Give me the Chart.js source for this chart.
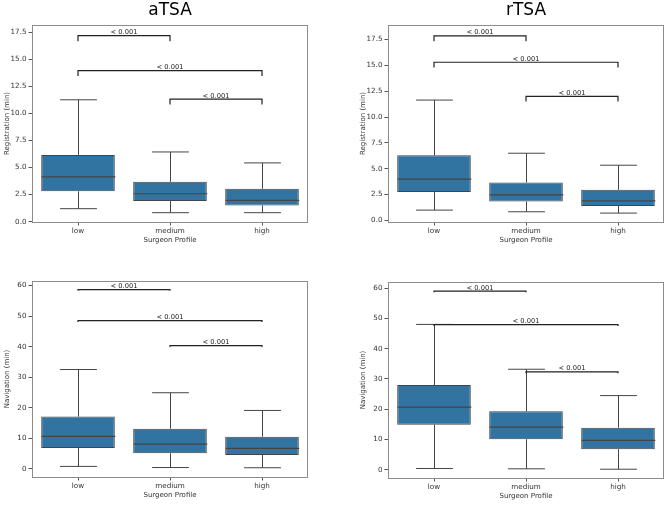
<!DOCTYPE html>
<html>
<head>
<meta charset="utf-8">
<script src="https://cdn.jsdelivr.net/npm/chart.js@4.4.0/dist/chart.umd.min.js"></script>
<style>
body { margin: 0; background: #fff; width: 667px; height: 506px; position: relative; overflow: hidden; }
canvas { position: absolute; }
</style>
</head>
<body>
<canvas id="c0" width="333" height="253" style="left:0;top:0"></canvas>
<canvas id="c1" width="333" height="253" style="left:333px;top:0"></canvas>
<canvas id="c2" width="333" height="253" style="left:0;top:253px"></canvas>
<canvas id="c3" width="333" height="253" style="left:333px;top:253px"></canvas>
<script>
"use strict"

const profiles = ["low", "medium", "high"]
const pairs = [[0, 1], [0, 2], [1, 2]]
const pLabels = ["< 0.001", "< 0.001", "< 0.001"]

// aTSA - registration
const aRegLo  = [1.2, 0.83, 0.83]
const aRegQ1  = [2.8, 1.9, 1.5]
const aRegMed = [4.14, 2.58, 1.96]
const aRegQ3  = [6.17, 3.68, 3.04]
const aRegHi  = [11.26, 6.44, 5.43]
const aRegBrackets = [17.18, 13.96, 11.33]

// rTSA - registration
const rRegLo  = [1.0, 0.84, 0.71]
const rRegQ1  = [2.74, 1.83, 1.39]
const rRegMed = [3.99, 2.48, 1.9]
const rRegQ3  = [6.3, 3.67, 2.96]
const rRegHi  = [11.64, 6.5, 5.34]
const rRegBrackets = [17.84, 15.3, 12.0]

// aTSA - navigation
const aNavLo  = [0.77, 0.4, 0.33]
const aNavQ1  = [6.8, 5.1, 4.5]
const aNavMed = [10.6, 8.1, 6.7]
const aNavQ3  = [17.1, 13.1, 10.5]
const aNavHi  = [32.5, 24.9, 19.1]
const aNavBrackets = [58.7, 48.5, 40.3]

// rTSA - navigation
const rNavLo  = [0.44, 0.33, 0.2]
const rNavQ1  = [14.9, 10.1, 6.8]
const rNavMed = [20.7, 14.1, 9.7]
const rNavQ3  = [28.0, 19.3, 13.9]
const rNavHi  = [48.0, 33.2, 24.5]
const rNavBrackets = [59.0, 47.9, 32.3]

const FONT = "'DejaVu Sans', sans-serif"
const BOX_COLOR = "rgb(50,116,161)"
const LINE_COLOR = "#444"

// draws whiskers, medians, significance brackets and the frame
function boxExtras(lo, med, hi, q1, q3, brackets, tickLen) {
    return {
        id: "boxExtras",
        afterDatasetsDraw(chart) {
            const ctx = chart.ctx
            const xs = chart.scales.x
            const ys = chart.scales.y
            const bars = chart.getDatasetMeta(0).data
            ctx.save()
            ctx.strokeStyle = LINE_COLOR
            ctx.lineWidth = 1
            for (let i = 0; i < profiles.length; i++) {
                let cx = Math.round(xs.getPixelForValue(i)) + 0.5
                let half = bars[i].width / 2
                let cap = half / 2
                ctx.beginPath()
                ctx.moveTo(cx, ys.getPixelForValue(q1[i]))
                ctx.lineTo(cx, ys.getPixelForValue(lo[i]))
                ctx.moveTo(cx - cap, ys.getPixelForValue(lo[i]))
                ctx.lineTo(cx + cap, ys.getPixelForValue(lo[i]))
                ctx.moveTo(cx, ys.getPixelForValue(q3[i]))
                ctx.lineTo(cx, ys.getPixelForValue(hi[i]))
                ctx.moveTo(cx - cap, ys.getPixelForValue(hi[i]))
                ctx.lineTo(cx + cap, ys.getPixelForValue(hi[i]))
                ctx.stroke()
                ctx.lineWidth = 1.2
                ctx.beginPath()
                ctx.moveTo(cx - half, ys.getPixelForValue(med[i]))
                ctx.lineTo(cx + half, ys.getPixelForValue(med[i]))
                ctx.stroke()
                ctx.lineWidth = 1
            }
            // brackets
            ctx.strokeStyle = "#222"
            ctx.lineWidth = 1.2
            ctx.fillStyle = "#222"
            ctx.font = "6.7px " + FONT
            ctx.textAlign = "center"
            ctx.textBaseline = "alphabetic"
            for (let k = 0; k < pairs.length; k++) {
                let x1 = xs.getPixelForValue(pairs[k][0])
                let x2 = xs.getPixelForValue(pairs[k][1])
                let yl = ys.getPixelForValue(brackets[k])
                let yt = ys.getPixelForValue(brackets[k] - tickLen)
                ctx.beginPath()
                ctx.moveTo(x1, yt)
                ctx.lineTo(x1, yl)
                ctx.lineTo(x2, yl)
                ctx.lineTo(x2, yt)
                ctx.stroke()
                ctx.fillText(pLabels[k], (x1 + x2) / 2, yl - 1.5)
            }
            ctx.restore()
        },
        afterDraw(chart) {
            const a = chart.chartArea
            const ctx = chart.ctx
            ctx.save()
            ctx.strokeStyle = "#8c8c8c"
            ctx.lineWidth = 1
            ctx.strokeRect(Math.round(a.left) + 0.5, Math.round(a.top) + 0.5,
                           Math.round(a.right - a.left) - 1, Math.round(a.bottom - a.top))
            ctx.restore()
        }
    }
}

function MakePanel(id, p) {
    let ctx = document.getElementById(id).getContext("2d")
    new Chart(ctx, {
        type: "bar",
        data: {
            labels: profiles,
            datasets: [{
                data: p.q1.map((v, i) => [v, p.q3[i]]),
                backgroundColor: BOX_COLOR,
                borderColor: LINE_COLOR,
                borderWidth: 1,
                borderSkipped: false,
                barPercentage: 0.8,
                categoryPercentage: 1.0
            }]
        },
        options: {
            responsive: false,
            animation: false,
            devicePixelRatio: 1,
            layout: { padding: p.pad },
            plugins: {
                legend: { display: false },
                tooltip: { enabled: false },
                title: {
                    display: !!p.title,
                    text: p.title,
                    fullSize: false,
                    color: "#000",
                    font: { family: FONT, size: 17, weight: "normal" },
                    padding: { top: 0, bottom: 4.6 }
                }
            },
            scales: {
                x: {
                    afterFit: s => { s.height = 22.5 },
                    grid: { display: true, drawOnChartArea: false, offset: false, tickLength: 3.5, color: "#555" },
                    border: { display: false },
                    ticks: { color: "#333", padding: 1, font: { family: FONT, size: 7.2 } },
                    title: { display: true, text: "Surgeon Profile", color: "#333", padding: 0,
                             font: { family: FONT, size: 7 } }
                },
                y: {
                    min: p.min,
                    max: p.max,
                    afterFit: s => { s.width = 32 },
                    grid: { drawOnChartArea: false, tickLength: 3.5, color: "#555" },
                    border: { display: false },
                    ticks: {
                        stepSize: p.step,
                        includeBounds: false,
                        color: "#333",
                        padding: 2,
                        font: { family: FONT, size: 7.2 },
                        callback: v => p.step < 5 ? v.toFixed(1) : v.toString()
                    },
                    title: { display: true, text: p.ylabel, color: "#333", padding: { top: 3, bottom: 0 },
                             font: { family: FONT, size: 7 } }
                }
            }
        },
        plugins: [boxExtras(p.lo, p.med, p.hi, p.q1, p.q3, p.brackets, p.tick)]
    })
}

MakePanel("c0", { title: "aTSA", ylabel: "Registration (min)", min: -0.03, max: 18.17, step: 2.5,
    lo: aRegLo, q1: aRegQ1, med: aRegMed, q3: aRegQ3, hi: aRegHi, brackets: aRegBrackets, tick: 0.5,
    pad: { left: 0, right: 25, top: 0, bottom: 8.5 } })
MakePanel("c1", { title: "rTSA", ylabel: "Registration (min)", min: -0.15, max: 18.9, step: 2.5,
    lo: rRegLo, q1: rRegQ1, med: rRegMed, q3: rRegQ3, hi: rRegHi, brackets: rRegBrackets, tick: 0.5,
    pad: { left: 23, right: 2, top: 0, bottom: 8.5 } })
MakePanel("c2", { title: "", ylabel: "Navigation (min)", min: -2.7, max: 61.5, step: 10,
    lo: aNavLo, q1: aNavQ1, med: aNavMed, q3: aNavQ3, hi: aNavHi, brackets: aNavBrackets, tick: 0.4,
    pad: { left: 0, right: 25, top: 28, bottom: 6.5 } })
MakePanel("c3", { title: "", ylabel: "Navigation (min)", min: -2.7, max: 62, step: 10,
    lo: rNavLo, q1: rNavQ1, med: rNavMed, q3: rNavQ3, hi: rNavHi, brackets: rNavBrackets, tick: 0.4,
    pad: { left: 23, right: 2, top: 29, bottom: 5.5 } })
</script>
</body>
</html>
